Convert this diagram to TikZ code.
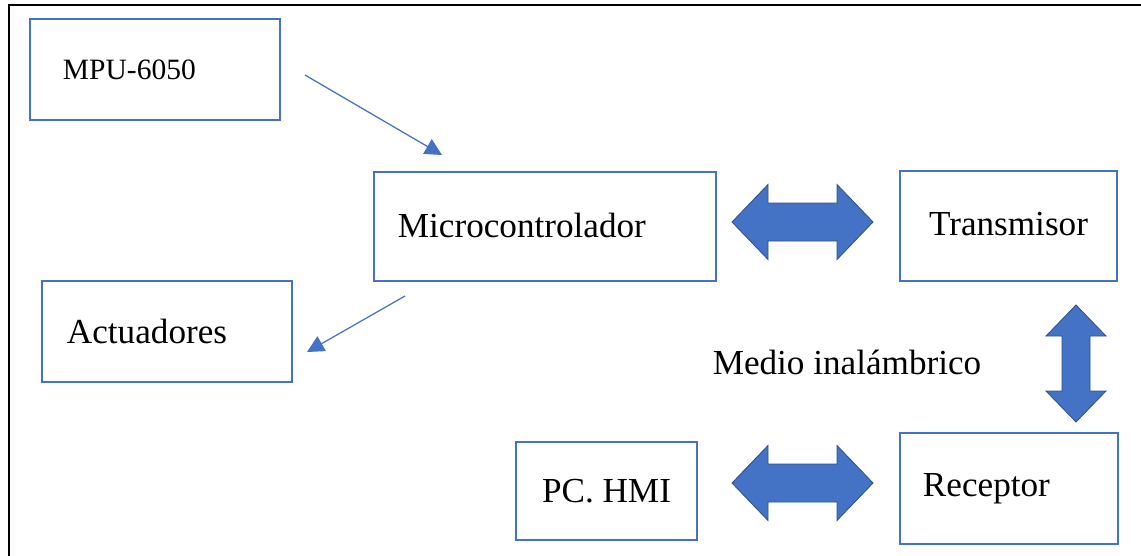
\documentclass[tikz,border=0pt]{standalone}
\usepackage{fontspec}
\setmainfont{Liberation Serif}
\usetikzlibrary{arrows.meta}

\definecolor{azulcaja}{HTML}{4472C4}
\definecolor{azulborde}{HTML}{2F528F}

% flechas gruesas de doble punta
\newcommand{\flechah}[3]{% x1, x2, y
  \fill[azulcaja, draw=azulborde, line width=0.6pt]
    (#1,#3) -- (#1+36,#3-37.5) -- (#1+36,#3-19) -- (#2-36,#3-19)
    -- (#2-36,#3-37.5) -- (#2,#3) -- (#2-36,#3+37.5) -- (#2-36,#3+19)
    -- (#1+36,#3+19) -- (#1+36,#3+37.5) -- cycle;}
\newcommand{\flechav}[3]{% x, y1, y2
  \fill[azulcaja, draw=azulborde, line width=0.6pt]
    (#1,#2) -- (#1+30,#2+31) -- (#1+14,#2+31) -- (#1+14,#3-31)
    -- (#1+30,#3-31) -- (#1,#3) -- (#1-30,#3-31) -- (#1-14,#3-31)
    -- (#1-14,#2+31) -- (#1-30,#2+31) -- cycle;}

\begin{document}
\begin{tikzpicture}[
    x=0.025cm, y=-0.025cm,
    caja/.style={draw=azulcaja, line width=1.7pt, inner ysep=0pt,
      font=\fontsize{25}{30}\selectfont},
    izq/.style={align=left},
    fina/.style={azulcaja, line width=0.9pt, -{Triangle[length=12pt,width=12pt]}}
]
\useasboundingbox (0,0) rectangle (1141,555);
% marco
\draw[black, line width=1.4pt] (9,560) -- (9,5) -- (1146,5);

% bloques
\node[caja, izq, font=\fontsize{21}{25}\selectfont, inner xsep=0.825cm,
  text width=4.6cm, minimum height=2.525cm] (mpu) at (155,69.5) {\raisebox{-2pt}{MPU-6050}};
\node[caja, izq, inner xsep=0.6cm, text width=7.35cm,
  minimum height=2.725cm] (micro) at (545,226.5) {\raisebox{2pt}{Microcontrolador}};
\node[caja, izq, inner xsep=0.625cm, text width=5cm,
  minimum height=2.525cm] (act) at (167,331.5) {Actuadores};
\node[caja, minimum width=5.425cm, minimum height=2.75cm]
  (tx) at (1008.5,226) {\raisebox{2.5pt}{Transmisor}};
\node[caja, minimum width=4.525cm, minimum height=2.45cm]
  (pc) at (606.5,491) {PC. HMI};
\node[caja, izq, inner xsep=0.575cm, text width=4.3cm,
  minimum height=2.775cm] (rx) at (1009,488.5) {Receptor};
\node[font=\fontsize{25}{30}\selectfont] (medio) at (847,362) {Medio inalámbrico};

% flechas finas
\coordinate (s1) at (305,75);
\coordinate (e1) at (442,155);
\coordinate (s2) at (405,296);
\coordinate (e2) at (307,352);
\draw[fina] (s1) -- (e1);
\draw[fina] (s2) -- (e2);

% flechas gruesas
\flechah{732}{873}{222}
\flechah{732}{873}{483}
\flechav{1076}{305}{422}
\end{tikzpicture}
\end{document}
